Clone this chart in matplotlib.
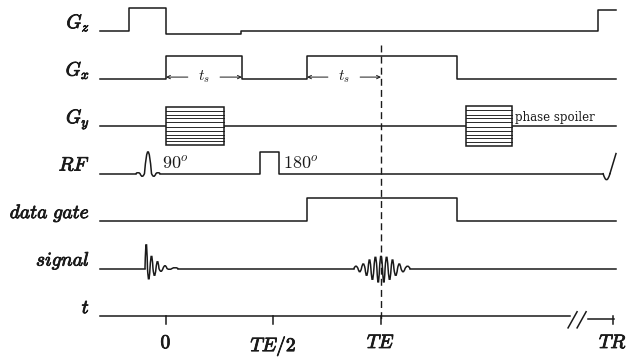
import matplotlib
matplotlib.use('Agg')
import matplotlib.pyplot as plt
from matplotlib.path import Path
from matplotlib.patches import PathPatch, Rectangle
import matplotlib.patheffects as pe

plt.rcParams['mathtext.fontset'] = 'cm'

# Time in units of TE, amplitudes in units of row spacing
t_start, t_end = -0.307, 2.093
TE = 1.0
TR = 2.079
t_break = 1.912

row_labels = [r'$G_z$', r'$G_x$', r'$G_y$', r'$RF$', r'$\mathit{data\ gate}$', r'$\mathit{signal}$', r'$t$']

# Gradients (piecewise constant, given as corner points)
gz_t = [t_start, -0.172, -0.172, 0.0, 0.0, 0.349, 0.349, 2.009, 2.009, t_end]
gz_amp = [0, 0, 0.48, 0.48, -0.07, -0.07, 0, 0, 0.45, 0.45]

gx_t = [t_start, 0.0, 0.0, 0.353, 0.353, 0.656, 0.656, 1.353, 1.353, t_end]
gx_amp = [0, 0, 0.48, 0.48, 0, 0, 0.48, 0.48, 0, 0]

# phase encoding table and spoiler: (start, end, half height)
gy_blocks = [(0.0, 0.27, 0.41), (1.395, 1.609, 0.42)]
gy_steps = [0.32, 0.23, 0.16, 0.09, -0.02, -0.10, -0.18, -0.25, -0.32]

# RF: 90 sinc (lobes between zero crossings), 180 hard pulse, start of next 90
rf90_zeros = [-0.1395, -0.121, -0.100, -0.0674, -0.0465, -0.0279]
rf90_amps = [0.02, -0.06, 0.46, -0.06, 0.02]
rf180_t = [0.437, 0.526]
rf180_amp = 0.46
rf_next_zeros = [2.033, 2.065]
rf_next_amps = [-0.13]
rf_next_top = 0.42

gate_t = [t_start, 0.656, 0.656, 1.353, 1.353, t_end]
gate_amp = [0, 0, 0.48, 0.48, 0, 0]

# signal: FID and echo lobes
fid_zeros = [-0.0977, -0.0860, -0.0744, -0.0605, -0.0465, -0.0326, -0.0140, 0.0047, 0.0279, 0.0558]
fid_amps = [0.53, -0.23, 0.27, -0.15, 0.15, -0.06, 0.06, -0.02, 0.02]
echo_zeros = [0.874, 0.893, 0.909, 0.926, 0.940, 0.953, 0.967, 0.981, 0.993,
              1.007, 1.019, 1.033, 1.047, 1.060, 1.077, 1.093, 1.112, 1.135]
echo_amps = [0.05, -0.07, 0.10, -0.15, 0.19, -0.24, 0.25, -0.30, 0.27,
             -0.30, 0.25, -0.24, 0.19, -0.15, 0.10, -0.07, 0.05]

tick_t = [0.0, 0.5, TE, TR]
tick_labels = [r'$\mathbf{0}$', r'$TE/2$', r'$TE$', r'$TR$']

ts_arrows = [(0.0, 0.353), (0.656, 1.0)]

lw = 1.1
col = '#1a1a1a'
bold = [pe.withStroke(linewidth=0.6, foreground=col)]


def lobes(zeros, amps, base):
    verts = [(zeros[0], base)]
    codes = [Path.MOVETO]
    for i, a in enumerate(amps):
        mid = 0.5 * (zeros[i] + zeros[i + 1])
        verts += [(mid, base + 2 * a), (zeros[i + 1], base)]
        codes += [Path.CURVE3, Path.CURVE3]
    return PathPatch(Path(verts, codes), fill=False, lw=lw, ec=col, capstyle='round')


fig = plt.figure(figsize=(6.26, 3.58), dpi=100)
ax = fig.add_axes([0, 0, 1, 1])
ax.set_xlim(-0.772, 2.1395)
ax.set_ylim(-6.884, 0.653)
ax.axis('off')

base = [-i for i in range(7)]

# G_z, G_x
ax.plot(gz_t, [base[0] + a for a in gz_amp], color=col, lw=lw)
ax.plot(gx_t, [base[1] + a for a in gx_amp], color=col, lw=lw)
for (a, b) in ts_arrows:
    y = base[1] + 0.03
    mid = 0.5 * (a + b)
    ax.annotate('', xy=(a, y), xytext=(mid - 0.075, y),
                arrowprops=dict(arrowstyle='->', lw=0.7, color=col, mutation_scale=6, shrinkA=0, shrinkB=0))
    ax.annotate('', xy=(b, y), xytext=(mid + 0.075, y),
                arrowprops=dict(arrowstyle='->', lw=0.7, color=col, mutation_scale=6, shrinkA=0, shrinkB=0))
    ax.text(mid, y, r'$t_s$', fontsize=11, ha='center', va='center', color=col)

# G_y
ax.plot([t_start, t_end], [base[2], base[2]], color=col, lw=lw)
for (a, b, h) in gy_blocks:
    ax.add_patch(Rectangle((a, base[2] - h), b - a, 2 * h, fc='white', ec=col, lw=lw, zorder=3))
    for s in gy_steps:
        ax.plot([a, b], [base[2] + s * h / 0.41, base[2] + s * h / 0.41], color=col, lw=0.65, zorder=4)
ax.text(gy_blocks[1][1] + 0.012, base[2] + 0.04, 'phase spoiler', fontsize=8.5,
        family='DejaVu Serif', ha='left', va='bottom', color=col)

# RF
ax.plot([t_start, rf90_zeros[0]], [base[3]] * 2, color=col, lw=lw)
ax.add_patch(lobes(rf90_zeros, rf90_amps, base[3]))
ax.plot([rf90_zeros[-1], rf180_t[0], rf180_t[0], rf180_t[1], rf180_t[1], rf_next_zeros[0]],
        [base[3], base[3], base[3] + rf180_amp, base[3] + rf180_amp, base[3], base[3]], color=col, lw=lw)
ax.add_patch(lobes(rf_next_zeros, rf_next_amps, base[3]))
ax.plot([rf_next_zeros[-1], t_end], [base[3], base[3] + rf_next_top], color=col, lw=lw)
ax.text(-0.019, base[3] + 0.19, r'$90^o$', fontsize=13, ha='left', va='center', color=col)
ax.text(0.544, base[3] + 0.19, r'$180^o$', fontsize=13, ha='left', va='center', color=col)

# data gate
ax.plot(gate_t, [base[4] + a for a in gate_amp], color=col, lw=lw)

# signal
ax.plot([t_start, fid_zeros[0]], [base[5]] * 2, color=col, lw=lw)
ax.add_patch(lobes(fid_zeros, fid_amps, base[5]))
ax.plot([fid_zeros[-1], echo_zeros[0]], [base[5]] * 2, color=col, lw=lw)
ax.add_patch(lobes(echo_zeros, echo_amps, base[5]))
ax.plot([echo_zeros[-1], t_end], [base[5]] * 2, color=col, lw=lw)

# time axis with break
ax.plot([t_start, t_break - 0.032], [base[6]] * 2, color=col, lw=lw)
ax.plot([t_break + 0.053, TR + 0.004], [base[6] - 0.06] * 2, color=col, lw=lw)
for dx in (-0.021, 0.021):
    ax.plot([t_break + dx - 0.021, t_break + dx + 0.021], [base[6] - 0.25, base[6] + 0.09], color=col, lw=lw)
for tt, lab in zip(tick_t, tick_labels):
    ax.plot([tt, tt], [base[6], base[6] - 0.17], color=col, lw=lw)
    ax.text(tt, base[6] - 0.36, lab, fontsize=14, ha='center', va='top', color=col, path_effects=bold)

# echo time marker
ax.plot([TE, TE], [base[0] - 0.29, base[6] - 0.13], color=col, lw=1.0, ls=(0, (5, 3)))

# row labels
for y, lab in zip(base, row_labels):
    ax.text(-0.353, y + 0.06, lab, fontsize=14, ha='right', va='baseline', color=col, path_effects=bold)

fig.savefig('out.png', dpi=100, facecolor='white')
